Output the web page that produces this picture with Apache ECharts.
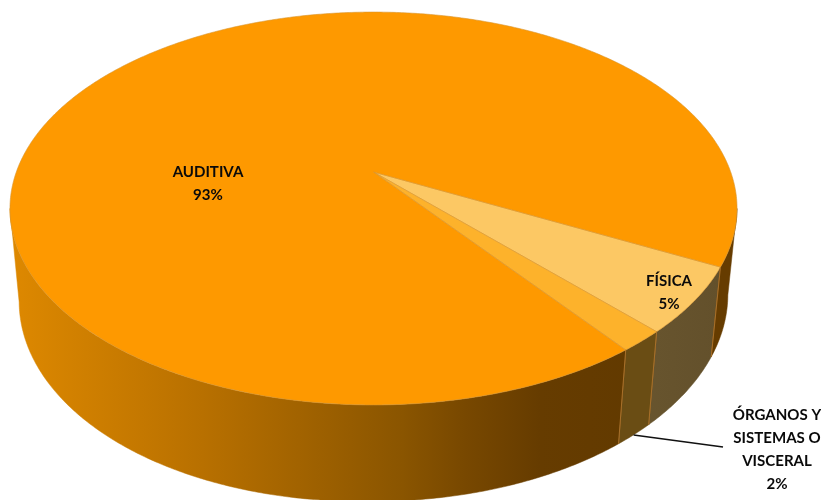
<!DOCTYPE html>
<html><head><meta charset="utf-8">
<style>html,body{margin:0;padding:0;background:#fff}#c{width:821px;height:500px}</style>
<script src="https://cdn.jsdelivr.net/npm/echarts@6/dist/echarts.min.js"></script>
</head><body><div id="c"></div>
<script>
// Data (the values are what fix each slice's angle)
const categories = ['FÍSICA', 'ÓRGANOS Y\nSISTEMAS O\nVISCERAL', 'AUDITIVA'];
const values = [5.4, 1.75, 92.85];
const percentLabels = ['5%', '2%', '93%'];
const topColors = ['#FCC864', '#FDB22B', '#FE9900'];

const START = 27.3;                    // first slice boundary, degrees clockwise from 3 o'clock
const total = values.reduce((a, b) => a + b, 0);
const labelAt = [[669, 292], [777, 449], [208, 183.5]];

// Perspective projection of the pie's disc
const P = {cx: 373.5, d: 357.2, a: 157.7, b: 172, c: -0.1858, e: 0.025, h: 91, skew: 7};
function rimTop(t) {
  const r = t * Math.PI / 180, u = Math.cos(r), v = Math.sin(r), w = 1 + P.c * v;
  return [P.cx + P.d * u / w, (P.a * v + P.b) / w];
}
function rimBottom(t) {
  const r = t * Math.PI / 180, u = Math.cos(r), v = Math.sin(r), w = 1 + P.c * v + P.e;
  const h = P.h + P.skew * Math.max(0, -u);
  return [P.cx + P.d * u / w, (P.a * v + P.b + h) / w];
}
function arc(fn, a, b) {
  const n = Math.max(2, Math.ceil(Math.abs(b - a) * 2)), pts = [];
  for (let i = 0; i <= n; i++) pts.push(fn(a + (b - a) * i / n));
  return pts;
}
const VIS0 = 10.7, VIS1 = 169.3;       // part of the rim on the silhouette's near side

const sideFill = [
  {type: 'linear', x: 560, y: 0, x2: 720, y2: 0, global: true,
   colorStops: [{offset: 0, color: '#6D5A32'}, {offset: 1, color: '#63502B'}]},
  '#6A4D14',
  {type: 'linear', x: 15, y: 0, x2: 640, y2: 0, global: true,
   colorStops: [{offset: 0, color: '#DD8800'}, {offset: .3, color: '#B87000'},
                {offset: .62, color: '#8A5500'}, {offset: .72, color: '#784800'},
                {offset: .84, color: '#663C00'}, {offset: 1, color: '#623A00'}]}
];

function renderItem(params, api) {
  const i = params.dataIndex;
  let before = 0;
  for (let k = 0; k < i; k++) before += values[k];
  const a0 = START + before / total * 360;
  const a1 = a0 + api.value(0) / total * 360;
  const children = [];

  // side wall: the visible parts of [a0,a1], also one turn on
  [[a0, a1], [a0 - 360, a1 - 360]].forEach(([s, e]) => {
    const from = Math.max(s, VIS0), to = Math.min(e, VIS1);
    if (to <= from) return;
    const fill = (i === 2 && to < 40) ? '#663C00' : sideFill[i];
    children.push({type: 'polygon', shape: {points: arc(rimTop, from, to).concat(arc(rimBottom, to, from))},
      style: {fill: fill, stroke: fill, lineWidth: 0.5}});
    [s, e].forEach(t => {
      if (t >= VIS0 && t <= VIS1) {
        const p = rimTop(t), q = rimBottom(t);
        children.push({type: 'line', shape: {x1: p[0], y1: p[1], x2: q[0], y2: q[1]},
          style: {stroke: '#A8702A', lineWidth: 1}});
      }
    });
  });

  // top face
  children.push({type: 'polygon', shape: {points: [[P.cx, P.b]].concat(arc(rimTop, a0, a1))},
    style: {fill: topColors[i], stroke: '#D9952F', lineWidth: 0.6}});
  return {type: 'group', children: children};
}

function renderLabels(params) {
  const i = params.dataIndex;
  const lines = categories[i].split('\n').concat(percentLabels[i]);
  const lh = 23;
  const [x, y] = labelAt[i];
  const children = lines.map((s, k) => ({
    type: 'text', x: x, y: y + (k - (lines.length - 1) / 2) * lh, scaleX: 0.94,
    style: {text: s, x: 0, y: 0, align: 'center', verticalAlign: 'middle', fill: '#0A0A0A',
      font: 'bold 16px Lato, "Open Sans", sans-serif'}}));
  if (i === 1) {
    const mid = START + (values[0] + values[1] / 2) / total * 360, b = rimBottom(mid);
    children.push({type: 'line', shape: {x1: b[0] - 0.5, y1: b[1] + 0.5, x2: 723, y2: 447},
      style: {stroke: '#111', lineWidth: 1.5}});
  }
  return {type: 'group', children: children};
}

const chart = echarts.init(document.getElementById('c'), null, {renderer: 'canvas'});
const rows = values.map((v, i) => ({name: categories[i], value: [v, i]}));
chart.setOption({
  animation: false,
  backgroundColor: '#fff',
  series: [
    {type: 'custom', coordinateSystem: 'none', renderItem: renderItem, data: rows, silent: true, clip: false},
    {type: 'custom', coordinateSystem: 'none', renderItem: renderLabels, data: rows, silent: true, clip: false, z: 5}
  ]
});
</script></body></html>
